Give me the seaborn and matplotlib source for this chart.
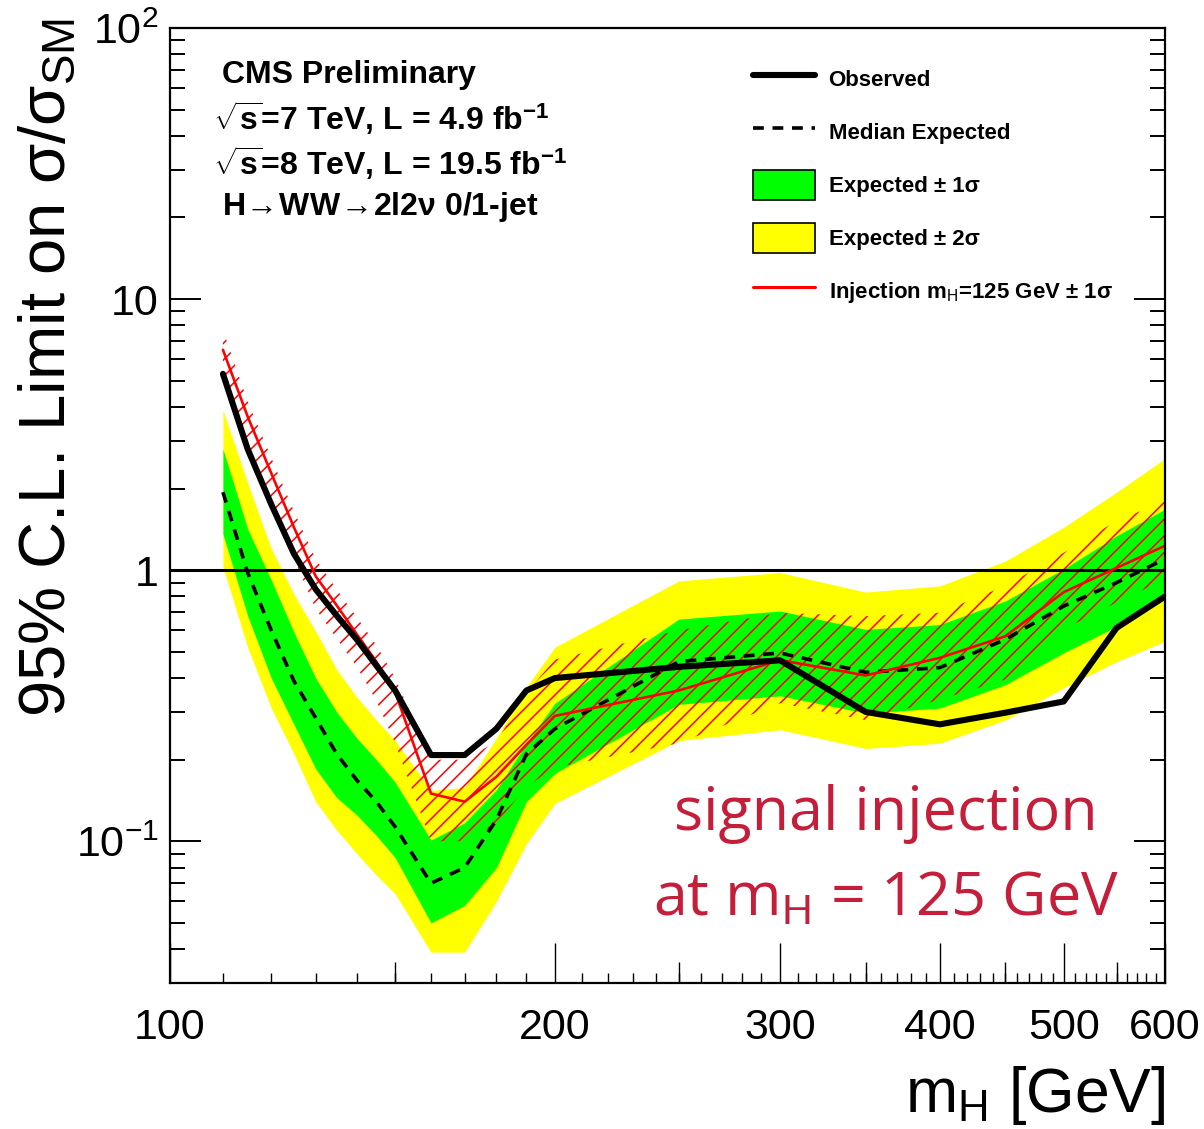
import numpy as np
import pandas as pd
import matplotlib
matplotlib.use('Agg')
import matplotlib.pyplot as plt
import matplotlib.ticker as ticker
from matplotlib.lines import Line2D
from matplotlib.patches import Patch
import seaborn as sns

# ~~~~~~~~~~~~~~~~~~~~~~~~~~~~~~ data ~~~~~~~~~~~~~~~~~~~~~~~~~~~~~~ #
mass = [110, 115, 120, 125, 130, 135, 140, 145, 150, 160, 170, 180, 190, 200,
        250, 300, 350, 400, 450, 500, 550, 600]
observed = [5.3, 2.8, 1.75, 1.15, 0.85, 0.68, 0.555, 0.445, 0.36, 0.208, 0.208, 0.26, 0.36, 0.40,
            0.44, 0.465, 0.30, 0.27, 0.298, 0.328, 0.613, 0.80]
exp_median = [1.94, 0.98, 0.60, 0.39, 0.285, 0.21, 0.168, 0.14, 0.113, 0.07, 0.08, 0.12, 0.21, 0.26,
              0.46, 0.495, 0.42, 0.437, 0.555, 0.737, 0.90, 1.10]
exp_m1 = [1.36, 0.68, 0.40, 0.27, 0.185, 0.145, 0.125, 0.105, 0.087, 0.05, 0.058, 0.08, 0.14, 0.178,
          0.32, 0.344, 0.297, 0.31, 0.378, 0.496, 0.62, 0.78]
exp_p1 = [2.8, 1.42, 0.92, 0.59, 0.40, 0.30, 0.24, 0.20, 0.165, 0.101, 0.117, 0.155, 0.23, 0.323,
          0.66, 0.707, 0.605, 0.63, 0.77, 1.01, 1.34, 1.68]
exp_m2 = [1.03, 0.52, 0.31, 0.21, 0.14, 0.11, 0.09, 0.075, 0.064, 0.039, 0.039, 0.06, 0.098, 0.138,
          0.235, 0.258, 0.22, 0.23, 0.28, 0.368, 0.46, 0.547]
exp_p2 = [3.9, 2.1, 1.2, 0.815, 0.595, 0.43, 0.34, 0.28, 0.235, 0.154, 0.158, 0.24, 0.37, 0.52,
          0.913, 0.98, 0.83, 0.875, 1.08, 1.44, 1.94, 2.58]
inj_median = [6.5, 3.69, 2.28, 1.44, 0.95, 0.742, 0.58, 0.46, 0.355, 0.15, 0.14, 0.173, 0.227, 0.29,
              0.36, 0.466, 0.409, 0.475, 0.57, 0.83, 1.02, 1.23]
inj_up = [7.7, 4.2, 2.6, 1.65, 1.1, 0.85, 0.67, 0.53, 0.40, 0.20, 0.20, 0.233, 0.353, 0.468,
          0.60, 0.697, 0.677, 0.697, 0.875, 1.16, 1.52, 1.80]
inj_down = [5.0, 2.9, 1.75, 1.1, 0.72, 0.56, 0.44, 0.33, 0.23, 0.10, 0.10, 0.116, 0.159, 0.187,
            0.23, 0.323, 0.28, 0.333, 0.395, 0.605, 0.76, 0.926]

x_major = [100, 200, 300, 400, 500, 600]
x_mid = [150, 250, 350, 450, 550]
y_major = [0.1, 1, 10, 100]
y_labels = {0.1: r'$10^{-1}$', 1: '1', 10: '10', 100: r'$10^{2}$'}

df = pd.DataFrame({'mass': mass, 'observed': observed, 'median': exp_median,
                   'inj': inj_median})

# ~~~~~~~~~~~~~~~~~~~~~~~~~~~~~~ style ~~~~~~~~~~~~~~~~~~~~~~~~~~~~~~ #
sns.set_theme(style='ticks')
plt.rcParams['font.family'] = ['Liberation Sans', 'DejaVu Sans']
plt.rcParams['mathtext.fontset'] = 'custom'
plt.rcParams['mathtext.rm'] = 'Liberation Sans'
plt.rcParams['mathtext.it'] = 'Liberation Sans:italic'
plt.rcParams['mathtext.bf'] = 'Liberation Sans:bold'
plt.rcParams['hatch.linewidth'] = 1.1
for key in ['text.color', 'axes.labelcolor', 'xtick.color', 'ytick.color']:
    plt.rcParams[key] = 'black'

fig = plt.figure(figsize=(12.04, 11.29), dpi=100)
ax = fig.add_axes([0.1412, 0.1293, 0.8264, 0.8459])
ax.set_xscale('log')
ax.set_yscale('log')

# bands
ax.fill_between(mass, exp_m2, exp_p2, color='#FFFF00', lw=0, zorder=1)
ax.fill_between(mass, exp_m1, exp_p1, color='#00FF00', lw=0, zorder=2)
ax.fill_between(mass, inj_down, inj_up, facecolor='none', edgecolor='#FF0000',
                hatch='//', lw=0, zorder=3)

ax.axhline(1, color='black', lw=2.2, zorder=4)

# lines
sns.lineplot(data=df, x='mass', y='median', ax=ax, color='black', lw=2.6,
             linestyle=(0, (3, 2.4)), estimator=None, zorder=5)
sns.lineplot(data=df, x='mass', y='inj', ax=ax, color='#FF0000', lw=1.9,
             estimator=None, zorder=6)
sns.lineplot(data=df, x='mass', y='observed', ax=ax, color='black', lw=4.4,
             estimator=None, zorder=7)

ax.set_xlim(100, 600)
ax.set_ylim(0.03, 100)
ax.set_xlabel('')
ax.set_ylabel('')

# ticks (ROOT-ish: inside, left+right)
ax.xaxis.set_major_locator(ticker.FixedLocator(x_major))
ax.xaxis.set_major_formatter(ticker.FixedFormatter([str(v) for v in x_major]))
ax.xaxis.set_minor_locator(ticker.FixedLocator([m for m in range(110, 600, 10) if m not in x_major]))
ax.xaxis.set_minor_formatter(ticker.NullFormatter())
ax.yaxis.set_major_locator(ticker.FixedLocator(y_major))
ax.yaxis.set_major_formatter(ticker.FuncFormatter(lambda v, p: y_labels.get(round(v, 3), '')))
ax.yaxis.set_minor_locator(ticker.LogLocator(base=10, subs=np.arange(2, 10)))
ax.yaxis.set_minor_formatter(ticker.NullFormatter())

ax.tick_params(axis='x', which='major', direction='in', length=29, width=1.0,
               labelsize=31, pad=18, bottom=True, top=False)
ax.tick_params(axis='x', which='minor', direction='in', length=7, width=1.0,
               bottom=True, top=False)
ax.tick_params(axis='y', which='major', direction='in', length=22, width=1.4,
               labelsize=31, pad=8, left=True, right=True)
ax.tick_params(axis='y', which='minor', direction='in', length=11, width=1.4,
               left=True, right=True)

secax = ax.secondary_xaxis('bottom')
secax.xaxis.set_major_locator(ticker.FixedLocator(x_mid))
secax.xaxis.set_minor_locator(ticker.NullLocator())
secax.tick_params(axis='x', which='major', direction='in', length=15, width=1.0,
                  labelbottom=False)
secax.spines['bottom'].set_visible(False)

for sp in ax.spines.values():
    sp.set_linewidth(1.6)
    sp.set_color('black')
    sp.set_zorder(10)

# axis titles
fig.text(48 / 1204, 1 - 18 / 1129, '95% C.L. Limit on σ/σ$_{\\mathrm{SM}}$',
         rotation=90, ha='center', va='top', fontsize=47)
fig.text(1166 / 1204, 1 - 1112 / 1129, r'm$_{\mathrm{H}}$ [GeV]',
         ha='right', va='baseline', fontsize=45)

# CMS labels
def ax_pt(px, py):
    return (px - 170) / 995, (983 - py) / 955

lab_kw = dict(transform=ax.transAxes, fontsize=23, fontweight='bold', va='baseline', ha='left')
ax.text(*ax_pt(222, 83), 'CMS Preliminary', **lab_kw)
ax.text(*ax_pt(213, 130), r'$\sqrt{\mathbf{s}}$=7 TeV, L = 4.9 fb$^{\mathbf{-1}}$', **lab_kw)
ax.text(*ax_pt(213, 175), r'$\sqrt{\mathbf{s}}$=8 TeV, L = 19.5 fb$^{\mathbf{-1}}$', **lab_kw)
ax.text(*ax_pt(222, 215), r'H$\!\rightarrow\!$WW$\!\rightarrow\!$2l2ν 0/1-jet', **lab_kw)

# signal injection note
inj_kw = dict(transform=ax.transAxes, fontsize=44, color='#C41E3A', ha='center',
              va='baseline', family=['Open Sans', 'DejaVu Sans'])
ax.text(*ax_pt(886, 830), 'signal injection', **inj_kw)
ax.text(*ax_pt(886, 915), r'at m$_{\mathrm{H}}$ = 125 GeV', **inj_kw)

# legend
handles = [
    Line2D([], [], color='black', lw=4.4),
    Line2D([], [], color='black', lw=2.6, linestyle=(0, (3, 2.4))),
    Patch(facecolor='#00FF00', edgecolor='black', lw=1.2),
    Patch(facecolor='#FFFF00', edgecolor='black', lw=1.2),
    Line2D([], [], color='#FF0000', lw=2.2),
]
labels = ['Observed', 'Median Expected', 'Expected ± 1σ', 'Expected ± 2σ',
          r'Injection m$_{\mathrm{H}}$=125 GeV ± 1σ']
leg = ax.legend(handles, labels, loc='upper left', bbox_to_anchor=ax_pt(753, 64),
                frameon=False, borderpad=0, borderaxespad=0,
                prop={'size': 16, 'weight': 'bold'},
                handlelength=2.8, handleheight=1.68, handletextpad=0.6,
                labelspacing=1.05)

plt.savefig('out.png', dpi=100)
